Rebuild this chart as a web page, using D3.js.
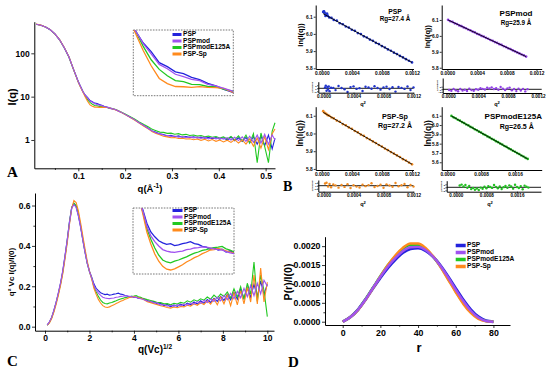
<!DOCTYPE html>
<html><head><meta charset="utf-8">
<script src="https://cdn.jsdelivr.net/npm/d3@7"></script>
<style>
body{margin:0;background:#fff;}
svg{display:block;font-family:"Liberation Sans",Arial,sans-serif;}
</style></head><body>
<svg id="c" width="550" height="371"></svg>
<script>
// ---------- shared ----------
const seriesNames = ["PSP","PSPmod","PSPmodE125A","PSP-Sp"];
const seriesColors = ["#2323dc","#a052f0","#22c822","#ff8a1c"];

// ---------- Panel A : I(q) vs q ----------
const qA = [0.01,0.02,0.03,0.04,0.05,0.06,0.07,0.08,0.09,0.10,0.105,
 0.11,0.115,0.12,0.125,0.13,0.135,0.14,0.145,0.15,0.155,0.16,0.165,0.17,
 0.18,0.19,0.20,0.21,0.22,0.23,0.24,
 0.25,0.258,0.266,0.274,0.282,0.29,0.298,0.306,0.314,0.322,0.33,0.338,0.346,0.354,0.362,0.37,0.378,0.386,0.394,0.402,0.41,0.418,0.426,0.434,0.442,0.45,0.458,0.466,0.474,0.482,0.49,0.498,0.506,0.514,0.52];
const iPSP = [470,445,405,350,280,205,135,82,42,22,17,
 13.0,10.8,9.5,8.1,7.65,7.1,6.92,6.55,6.34,6.0,5.8,5.5,5.3,
 5.0,4.45,3.9,3.4,2.95,2.5,2.15,
 1.85,1.62,1.5,1.38,1.34,1.24,1.28,1.19,1.24,1.16,1.2,1.14,1.19,1.12,1.16,1.1,1.15,1.06,1.14,1.04,1.12,1.0,1.16,0.96,1.12,0.92,1.15,0.86,1.2,0.8,1.25,0.74,1.3,0.62,1.1];
const iPSPmod = [470,445,405,350,280,205,135,82,42,22,17,
 13.0,10.7,9.2,7.9,7.42,6.85,6.62,6.36,6.24,5.92,5.8,5.58,5.38,
 5.0,4.45,3.9,3.4,2.95,2.5,2.15,
 1.82,1.6,1.47,1.38,1.3,1.27,1.21,1.23,1.16,1.2,1.13,1.18,1.11,1.16,1.09,1.16,1.06,1.14,1.06,1.12,1.04,1.14,1.0,1.16,0.97,1.18,0.93,1.22,0.88,1.3,0.85,1.35,0.8,1.3,1.0];
const iE125A = [468,444,404,349,279,204,134,81,41.5,21.8,16.8,
 13.0,10.3,8.45,7.35,6.7,6.25,6.16,5.92,5.9,5.74,5.72,5.5,5.38,
 5.05,4.5,4.0,3.5,3.05,2.62,2.28,
 2.0,1.76,1.64,1.52,1.5,1.42,1.44,1.36,1.4,1.31,1.35,1.27,1.3,1.23,1.27,1.19,1.23,1.15,1.2,1.11,1.18,1.06,1.2,1.0,1.25,0.95,1.3,0.85,1.4,0.3,1.45,0.7,0.3,1.6,2.5];
const iSp = [472,447,407,352,282,207,137,83,42,21.5,16.3,
 12.6,9.7,7.75,6.45,5.98,5.74,5.72,5.66,5.73,5.67,5.64,5.58,5.3,
 4.95,4.4,3.85,3.35,2.9,2.45,2.08,
 1.78,1.55,1.42,1.32,1.22,1.18,1.13,1.14,1.08,1.1,1.05,1.07,1.01,1.05,0.98,1.04,0.95,1.02,0.93,1.0,0.9,0.99,0.88,1.02,0.85,1.0,0.8,1.06,0.72,1.12,0.65,1.2,0.6,1.4,1.8];
const aXTicks = [0.1,0.2,0.3,0.4,0.5];
const aXMinor = [0.05,0.15,0.25,0.35,0.45];
const aYTicks = [1,10,100];

// ---------- Panel C : dimensionless Kratky ----------
const vC = [0.1,0.2,0.3,0.4,0.5,0.6,0.7,0.8,0.9,1.0,1.1,1.2,1.3,1.4,1.5,1.6,1.7,1.8,1.9,2.0,
 2.1,2.2,2.3,2.4,2.5,2.6,2.7,2.8,2.9,3.0,3.1,3.2,3.3,3.4,3.5,3.6,3.7,3.8,3.9,4.0,4.1,4.2,4.3,4.4,
 4.6,4.75,4.9,5.05,5.2,5.35,5.5,5.65,5.8,5.95,6.1,6.25,6.4,6.55,6.7,6.85,7.0,7.15,7.3,7.45,7.6,7.75,7.9,8.05,8.2,8.35,8.5,8.65,8.8,8.95,9.1,9.25,9.4,9.55,9.7,9.85,10.0];
const kPSP = [.008,.022,.045,.08,.12,.165,.215,.275,.35,.43,.52,.59,.61,.595,.55,.495,.43,.37,.315,.275,
 .245,.212,.19,.178,.168,.163,.159,.161,.156,.158,.161,.163,.166,.161,.159,.154,.152,.147,.15,.145,.147,.14,.143,.138,
 .13,.122,.124,.112,.116,.104,.11,.098,.108,.1,.112,.104,.117,.108,.122,.112,.128,.116,.134,.12,.14,.125,.15,.13,.16,.133,.17,.136,.185,.14,.195,.145,.21,.15,.225,.16,.21];
const kPSPmod = [.009,.024,.047,.082,.122,.168,.218,.278,.352,.43,.515,.585,.605,.59,.55,.493,.428,.367,.312,.272,
 .242,.205,.18,.166,.155,.146,.142,.14,.139,.141,.142,.146,.147,.15,.151,.153,.152,.15,.148,.146,.145,.141,.138,.136,
 .127,.126,.117,.118,.107,.11,.101,.106,.1,.108,.103,.112,.107,.117,.111,.124,.115,.13,.12,.137,.125,.146,.128,.155,.133,.165,.138,.175,.143,.19,.148,.205,.153,.215,.162,.23,.2];
const kE125A = [.008,.021,.044,.078,.118,.162,.212,.27,.345,.425,.515,.588,.612,.6,.56,.5,.435,.372,.315,.272,
 .24,.198,.172,.15,.132,.12,.115,.113,.117,.12,.124,.128,.133,.137,.14,.144,.146,.149,.151,.152,.154,.148,.145,.14,
 .134,.13,.126,.12,.119,.113,.114,.108,.116,.112,.12,.116,.128,.121,.133,.126,.138,.131,.147,.136,.156,.141,.162,.15,.172,.142,.188,.146,.198,.135,.215,.16,.32,.125,.255,.18,.05];
const kSp = [.007,.019,.04,.072,.11,.155,.205,.262,.335,.415,.505,.585,.625,.615,.575,.515,.45,.385,.325,.275,
 .235,.19,.16,.135,.117,.104,.097,.095,.098,.103,.108,.115,.12,.126,.13,.136,.14,.145,.146,.149,.146,.143,.14,.137,
 .124,.119,.114,.109,.104,.1,.095,.092,.097,.094,.1,.098,.106,.102,.113,.106,.118,.11,.128,.112,.137,.108,.147,.113,.157,.104,.167,.108,.178,.113,.195,.122,.255,.112,.29,.122,.22];
const cXTicks = [0,2,4,6,8,10];
const cXMinor = [1,3,5,7,9];
const cYTicks = [0,0.2,0.4,0.6];
const cYMinor = [0.1,0.3,0.5];

// ---------- Panel D : P(r) ----------
const rD = [0,4,8,12,16,20,24,28,32,36,40,44,48,52,56,60,64,68,72,76,80];
const pPSP = [0,0.00012,0.00031,0.00058,0.00088,0.00117,0.00143,0.00165,0.00183,0.00193,0.00195,0.00188,0.00172,0.00148,0.00119,0.00088,0.00058,0.00032,0.00013,0.00003,0];
const pPSPmod = [0,0.00012,0.00031,0.00058,0.00089,0.00119,0.00146,0.00169,0.00187,0.00197,0.00198,0.0019,0.00172,0.00147,0.00117,0.00085,0.00055,0.00029,0.00011,0.00002,0];
const pE125A = [0,0.00012,0.00031,0.00059,0.0009,0.00121,0.0015,0.00174,0.00193,0.00203,0.00203,0.00192,0.00172,0.00145,0.00113,0.0008,0.0005,0.00026,0.0001,0.00002,0];
const pSp = [0,0.00012,0.0003,0.00057,0.00088,0.0012,0.0015,0.00176,0.00196,0.00207,0.00207,0.00195,0.00173,0.00144,0.00111,0.00078,0.00047,0.00023,0.00007,0.00001,0];
const dXTicks = [0,20,40,60,80];
const dXMinor = [10,30,50,70];
const dYTicks = [0,0.0005,0.001,0.0015,0.002];
const dYMinor = [0.00025,0.00075,0.00125,0.00175];

// ---------- Panel B : Guinier fits ----------
const b1Q = [0.00002,0.00003,0.00004,0.00005,0.00006,0.00007,0.00008,0.0001,0.00013,0.00016,
 0.0002,0.00024,0.00028,0.00032,0.00036,0.0004,0.00044,0.00048,0.00052,0.00056,0.0006,0.00064,0.00068,0.00072,0.00076,0.0008,0.00084,0.00088,0.00092,0.00096,0.001,0.00104,0.00108,0.00112,0.00116,0.0012];
const b1Ln = [6.128,6.131,6.121,6.104,6.109,6.118,6.106,6.096,6.093,6.081,
 6.077,6.062,6.056,6.043,6.037,6.024,6.018,6.005,5.999,5.986,5.979,5.967,5.960,5.948,5.941,5.929,5.921,5.910,5.902,5.891,5.883,5.872,5.863,5.853,5.844,5.834];
const b1Res = [0.5,1.8,-1.6,0.9,-0.8,1.2,-1.9,0.4,0.3,-1.2,1.5,0.2,-0.6,-2.5,0.8,1.3,-0.4,0.1,-1.8,1.0,0.6,-0.3,1.4,0.2,-0.9,0.5,1.1,-0.5,0.7,-2.2,0.9,0.3,-0.4,1.2,-1.1,0.6];
const b1FitQ = [0.00002,0.0012];
const b1FitLn = [6.1172,5.834];

const b2Q = [0.00001,0.00004,0.00007,0.0001,0.00013,0.00016,0.00019,0.00022,0.00025,0.00028,0.00031,0.00034,0.00037,0.0004,0.00043,0.00046,0.00049,0.00052,0.00055,0.00058,0.00061,0.00064,0.00067,0.0007,0.00073,0.00076,0.00079,0.00082,0.00085,0.00088,0.00091,0.00094,0.00097,0.001,0.00103,0.00106];
const b2Ln = [6.101,6.092,6.088,6.079,6.074,6.066,6.061,6.053,6.048,6.040,6.035,6.027,6.022,6.013,6.008,6.000,5.995,5.988,5.982,5.974,5.969,5.961,5.956,5.948,5.943,5.935,5.930,5.922,5.917,5.909,5.903,5.896,5.890,5.883,5.877,5.870];
const b2Res = [-0.5,-1.2,0.3,-0.8,-1.5,0.2,-1.0,-0.3,-1.3,0.5,-0.6,-1.1,0.1,-0.4,0.8,0.3,-0.2,1.2,0.6,1.5,0.2,0.9,-0.3,1.8,0.4,-0.5,0.7,1.3,-0.8,0.2,-1.4,0.5,-0.9,0.3,-1.6,0.1];
const b2FitQ = [0.00001,0.00106];
const b2FitLn = [6.100,5.870];

const b3Q = [0.00002,0.00004,0.00006,0.00008,0.0001,0.00013,0.00016,
 0.0002,0.00024,0.00028,0.00032,0.00036,0.0004,0.00044,0.00048,0.00052,0.00056,0.0006,0.00064,0.00068,0.00072,0.00076,0.0008,0.00084,0.00088,0.00092,0.00096,0.001,0.00104,0.00108,0.00112,0.00116,0.0012];
const b3Ln = [6.126,6.116,6.111,6.103,6.100,6.090,6.085,6.073,6.066,6.053,6.046,6.034,6.026,6.014,6.006,5.994,5.986,5.974,5.966,5.955,5.946,5.935,5.926,5.915,5.906,5.895,5.886,5.876,5.867,5.855,5.847,5.836,5.826];
const b3Res = [1.5,2.0,-0.5,1.2,-1.0,0.8,0.2,-1.3,0.5,-0.8,1.0,-1.5,0.3,-0.6,-1.2,0.7,-0.3,0.4,1.6,-0.9,-0.2,0.6,-1.4,0.9,0.1,-0.7,1.8,-0.4,0.3,1.1,-1.0,0.5,-0.6];
const b3FitQ = [0.00002,0.0012];
const b3FitLn = [6.119,5.8264];

const b4Q = [0.0001,0.00015,0.0002,0.00025,0.0003,0.00035,0.0004,0.00045,0.0005,0.00055,0.0006,0.00065,0.0007,0.00075,0.0008,0.00085,0.0009,0.00095,0.001,0.00105,0.0011,0.00115,0.0012,0.00125,0.0013,0.00135,0.0014,0.00145,0.0015,0.00155,0.0016,0.00165,0.0017,0.00175,0.0018,0.00185,0.0019];
const b4Ln = [6.098,6.083,6.073,6.057,6.047,6.032,6.021,6.006,5.996,5.980,5.970,5.955,5.944,5.929,5.919,5.903,5.893,5.878,5.867,5.852,5.842,5.827,5.816,5.801,5.790,5.775,5.765,5.750,5.739,5.724,5.713,5.699,5.688,5.673,5.662,5.647,5.636];
const b4Res = [1.2,1.8,0.5,1.5,-0.3,0.9,-1.2,-0.5,-1.6,-0.8,-1.8,-0.2,-1.0,0.4,-0.6,0.8,0.2,-0.4,1.5,0.3,-0.7,0.6,-1.1,0.1,0.9,-0.3,1.3,0.5,-0.9,1.7,0.2,-0.5,0.8,-1.3,1.1,0.4,-0.2];
const b4FitQ = [0.0001,0.0019];
const b4FitLn = [6.097,5.6355];

const bTitles = ["PSP","PSPmod","PSP-Sp","PSPmodE125A"];
const bRg = ["Rg=27.4 Å","Rg=25.9 Å","Rg=27.2 Å","Rg=26.5 Å"];

// =============== drawing ===============
const svg = d3.select("#c");
const FONT = "Liberation Sans, Arial, sans-serif";
const SERIF = "Liberation Serif, Times New Roman, serif";

function styleAxis(g, fs){
  g.selectAll("path.domain").attr("stroke","#000").attr("stroke-width",1);
  g.selectAll(".tick line").attr("stroke","#000").attr("stroke-width",0.8);
  g.selectAll("text").attr("font-size",fs).attr("font-weight","bold").attr("fill","#000").attr("font-family",FONT);
}
function axes(o){
  const yPos = o.y.range()[0];
  const xPos = o.x.range()[0];
  const gx = svg.append("g").attr("transform",`translate(0,${yPos})`)
    .call(d3.axisBottom(o.x).tickValues(o.xT).tickFormat(o.xF).tickSize(o.tl).tickSizeOuter(0).tickPadding(o.pad));
  styleAxis(gx,o.fs);
  if(o.xM){
    const m = svg.append("g").attr("transform",`translate(0,${yPos})`)
      .call(d3.axisBottom(o.x).tickValues(o.xM).tickFormat("").tickSize(o.tl*0.55).tickSizeOuter(0));
    m.select("path.domain").remove(); styleAxis(m,o.fs);
  }
  const gy = svg.append("g").attr("transform",`translate(${xPos},0)`)
    .call(d3.axisLeft(o.y).tickValues(o.yT).tickFormat(o.yF).tickSize(o.tl).tickSizeOuter(0).tickPadding(o.pad));
  styleAxis(gy,o.yfs||o.fs);
  if(o.yM){
    const m = svg.append("g").attr("transform",`translate(${xPos},0)`)
      .call(d3.axisLeft(o.y).tickValues(o.yM).tickFormat("").tickSize(o.tl*0.55).tickSizeOuter(0));
    m.select("path.domain").remove(); styleAxis(m,o.fs);
  }
}
function txt(x,y,s,fs,opt={}){
  return svg.append("text").attr("x",x).attr("y",y).text(s)
    .attr("font-size",fs).attr("font-weight",opt.w||"bold").attr("font-family",opt.f||FONT)
    .attr("text-anchor",opt.a||"middle").attr("fill",opt.c||"#000");
}
function rtxt(x,y,s,fs){
  return svg.append("text").attr("transform",`translate(${x},${y}) rotate(-90)`).text(s)
    .attr("font-size",fs).attr("font-weight","bold").attr("font-family",FONT)
    .attr("text-anchor","middle").attr("dominant-baseline","middle");
}
function legend(x0,x1,xt,ys,fs,lw){
  seriesNames.forEach((n,i)=>{
    svg.append("line").attr("x1",x0).attr("x2",x1).attr("y1",ys[i]).attr("y2",ys[i])
      .attr("stroke",seriesColors[i]).attr("stroke-width",lw);
    txt(xt,ys[i],n,fs,{a:"start"}).attr("dominant-baseline","middle");
  });
}
let clipId = 0;
function clipRect(x,y,w,h){
  const id = "clip"+(clipId++);
  svg.append("clipPath").attr("id",id).append("rect").attr("x",x).attr("y",y).attr("width",w).attr("height",h);
  return `url(#${id})`;
}
const drawOrder = [0,2,3,1];

// ---------- Panel A ----------
{
  const x = d3.scaleLinear().domain([0.006,0.52]).range([34.3,275]);
  const y = d3.scaleLog().domain([0.222,537]).range([168.3,21.7]);
  const data = [iPSP,iPSPmod,iE125A,iSp];
  const line = d3.line().x(d=>x(d[0])).y(d=>y(d[1]));
  const cp = clipRect(34.3,10,245,158.3);
  drawOrder.forEach(i=>{
    svg.append("path").attr("d",line(d3.zip(qA,data[i]))).attr("fill","none")
      .attr("stroke",seriesColors[i]).attr("stroke-width",1.1).attr("clip-path",cp);
  });
  axes({x,y,xT:aXTicks,xM:aXMinor,xF:d3.format(".1f"),yT:aYTicks,yF:d3.format("d"),tl:3,pad:1.5,fs:8.5});
  rtxt(13,97,"I(q)",11);
  const t = txt(150,192,"q(Å",9.5); t.append("tspan").attr("font-size",6.5).attr("dy",-4).text("-1"); t.append("tspan").attr("dy",4).text(")");
  txt(7,177,"A",15,{f:SERIF,a:"start"});
  // inset
  const ix = d3.scaleLinear().domain([0.11,0.17]).range([135,232]);
  const iy = d3.scaleLog().domain([5.3,13]).range([92,30]);
  svg.append("rect").attr("x",133.3).attr("y",30).attr("width",100).attr("height",65.7)
    .attr("fill","none").attr("stroke","#555").attr("stroke-width",0.8).attr("stroke-dasharray","1.6,1.2");
  const icp = clipRect(133.3,30,100,65.7);
  const il = d3.line().x(d=>ix(d[0])).y(d=>iy(d[1]));
  drawOrder.forEach(i=>{
    svg.append("path").attr("d",il(d3.zip(qA,data[i]).filter(d=>d[0]>=0.1&&d[0]<=0.18))).attr("fill","none")
      .attr("stroke",seriesColors[i]).attr("stroke-width",1.3).attr("clip-path",icp);
  });
  legend(172.5,181.5,183,[34.5,41,47.5,54],6.6,3);
}

// ---------- Panel C ----------
{
  const x = d3.scaleLinear().domain([-0.45,10.3]).range([35,274]);
  const y = d3.scaleLinear().domain([-0.02,0.662]).range([330.7,193]);
  const data = [kPSP,kPSPmod,kE125A,kSp];
  const line = d3.line().x(d=>x(d[0])).y(d=>y(d[1]));
  drawOrder.forEach(i=>{
    svg.append("path").attr("d",line(d3.zip(vC,data[i]))).attr("fill","none")
      .attr("stroke",seriesColors[i]).attr("stroke-width",1.1);
  });
  axes({x,y,xT:cXTicks,xM:cXMinor,xF:d3.format("d"),yT:cYTicks,yM:cYMinor,yF:d3.format(".1f"),tl:3,pad:1.5,fs:8.5});
  rtxt(12,272,"q² Vc I(q)/I(0)",8);
  const t = txt(155,353,"q(Vc)",10); t.append("tspan").attr("font-size",6.5).attr("dy",-4).text("1/2");
  txt(7,366,"C",15,{f:SERIF,a:"start"});
  // inset
  const ix = d3.scaleLinear().domain([1.85,4.4]).range([133,234]);
  const iy = d3.scaleLinear().domain([0.085,0.25]).range([274,208]);
  svg.append("rect").attr("x",133).attr("y",208).attr("width",101).attr("height",66)
    .attr("fill","none").attr("stroke","#555").attr("stroke-width",0.8).attr("stroke-dasharray","1.6,1.2");
  const icp = clipRect(133,208,101,66);
  const il = d3.line().x(d=>ix(d[0])).y(d=>iy(d[1]));
  drawOrder.forEach(i=>{
    svg.append("path").attr("d",il(d3.zip(vC,data[i]).filter(d=>d[0]>=1.7&&d[0]<=4.5))).attr("fill","none")
      .attr("stroke",seriesColors[i]).attr("stroke-width",1.3).attr("clip-path",icp);
  });
  legend(172.5,182.5,184,[210.5,217,223.5,230],6.6,3);
}

// ---------- Panel D ----------
{
  const x = d3.scaleLinear().domain([-9.4,88.8]).range([325,510]);
  const y = d3.scaleLinear().domain([-0.000087,0.00225]).range([325,236.7]);
  const data = [pPSP,pPSPmod,pE125A,pSp];
  const line = d3.line().x(d=>x(d[0])).y(d=>y(d[1])).curve(d3.curveMonotoneX);
  [0,2,3,1].forEach(i=>{
    svg.append("path").attr("d",line(d3.zip(rD,data[i]))).attr("fill","none")
      .attr("stroke",seriesColors[i]).attr("stroke-width",i===0?3:2.4);
  });
  axes({x,y,xT:dXTicks,xM:dXMinor,xF:d3.format("d"),yT:dYTicks,yM:dYMinor,yF:d3.format(".4f"),tl:3,pad:1.5,fs:8.8});
  rtxt(289,282,"P(r)/I(0)",10.5);
  txt(419,351.5,"r",13);
  txt(288,367,"D",15,{f:SERIF,a:"start"});
  legend(455.7,465.7,467,[245.5,252.5,259.5,266.5],6.6,3.5);
}

// ---------- Panel B ----------
function drawB(o){
  const x = d3.scaleLinear().domain(o.xd).range(o.xr);
  const y = d3.scaleLinear().domain(o.yd).range(o.yr);
  svg.append("g").selectAll("circle").data(d3.zip(o.q,o.ln)).join("circle")
    .attr("cx",d=>x(d[0])).attr("cy",d=>y(d[1])).attr("r",1.35).attr("fill",o.color);
  svg.append("path").attr("d",d3.line().x(d=>x(d[0])).y(d=>y(d[1]))(d3.zip(o.fq,o.fl)))
    .attr("stroke","#000").attr("stroke-width",0.9).attr("fill","none");
  axes({x,y,xT:o.xT,xF:d3.format(".4f"),yT:o.yT,yF:d3.format(".1f"),tl:2,pad:1,fs:4.8});
  rtxt(o.ylx,o.yly,"ln(I(q))",o.ylfs);
  txt(o.tx,o.ty,o.title,o.tfs);
  txt(o.rx_,o.ry_,o.rg,o.rfs);
  // residuals
  const rx = d3.scaleLinear().domain(o.rxd).range(o.rxr);
  const ry = d3.scaleLinear().domain(o.ryd).range(o.ryr);
  svg.append("line").attr("x1",o.rxr[0]).attr("x2",o.rxr[1]).attr("y1",ry(0)).attr("y2",ry(0))
    .attr("stroke","#000").attr("stroke-width",0.9);
  svg.append("g").selectAll("circle").data(d3.zip(o.q,o.res)).join("circle")
    .attr("cx",d=>rx(d[0])).attr("cy",d=>ry(d[1])).attr("r",1.2).attr("fill",o.color);
  axes({x:rx,y:ry,xT:o.xT,xF:d3.format(".4f"),yT:[-2,0,2],yF:d3.format("d"),tl:1.2,pad:0.5,fs:4.6,yfs:2.4});
  rtxt(o.rxr[0]-5.5,(o.ryr[0]+o.ryr[1])/2,"Δln(I(q))/σ",2.3);
  const t = txt(o.qx,o.qy,"q",5.5); t.append("tspan").attr("font-size",4).attr("dy",-2).text("2");
}
drawB({xd:[-0.00008,0.00122],xr:[315.7,413.5],yd:[5.796,6.168],yr:[69,5],
  q:b1Q,ln:b1Ln,res:b1Res,fq:b1FitQ,fl:b1FitLn,color:"#1f33cc",xT:[0,0.0004,0.0008,0.0012],yT:[5.8,5.9,6.0,6.1],
  ylx:300.7,yly:35,ylfs:7.5,tx:395,ty:14,title:bTitles[0],tfs:6.8,rx_:395,ry_:21,rg:bRg[0],rfs:6.3,
  rxd:[-0.00007,0.0012],rxr:[318.3,413.5],ryd:[-2.93,4.4],ryr:[92.7,81.7],qx:363,qy:106});
drawB({xd:[-0.000076,0.00127],xr:[441.7,541.7],yd:[5.792,6.194],yr:[69,5],
  q:b2Q,ln:b2Ln,res:b2Res,fq:b2FitQ,fl:b2FitLn,color:"#9040e6",xT:[0,0.0004,0.0008,0.0012],yT:[5.8,5.9,6.0,6.1],
  ylx:428.3,yly:36.7,ylfs:7.5,tx:516,ty:16.3,title:bTitles[1],tfs:8,rx_:516,ry_:24.5,rg:bRg[1],rfs:6.3,
  rxd:[-0.0000757,0.00125],rxr:[442.7,541.7],ryd:[-2.85,8.7],ryr:[93,78],qx:497,qy:106});
drawB({xd:[-0.00008,0.00122],xr:[315.7,413.5],yd:[5.794,6.151],yr:[170,106.7],
  q:b3Q,ln:b3Ln,res:b3Res,fq:b3FitQ,fl:b3FitLn,color:"#f08a20",xT:[0,0.0004,0.0008,0.0012],yT:[5.8,5.9,6.0,6.1],
  ylx:300.7,yly:133.3,ylfs:8.5,tx:395,ty:118.5,title:bTitles[2],tfs:7.2,rx_:395,ry_:128,rg:bRg[2],rfs:7,
  rxd:[-0.00007,0.0012],rxr:[318.3,413.5],ryd:[-4,3.8],ryr:[191.7,180],qx:363,qy:206});
drawB({xd:[-0.00013,0.00223],xr:[441.7,541.7],yd:[5.517,6.197],yr:[170,106.7],
  q:b4Q,ln:b4Ln,res:b4Res,fq:b4FitQ,fl:b4FitLn,color:"#22c022",xT:[0,0.0008,0.0016],yT:[5.6,5.7,5.8,5.9,6.0,6.1],
  ylx:429,yly:133.3,ylfs:8.5,tx:513.3,ty:119,title:bTitles[3],tfs:8,rx_:516.7,ry_:128.5,rg:bRg[3],rfs:7,
  rxd:[-0.00024,0.00223],rxr:[446.7,541],ryd:[-2.93,4.4],ryr:[191.7,180.7],qx:490,qy:206});
txt(283,191,"B",14,{f:SERIF,a:"start"});
</script>
</body></html>
